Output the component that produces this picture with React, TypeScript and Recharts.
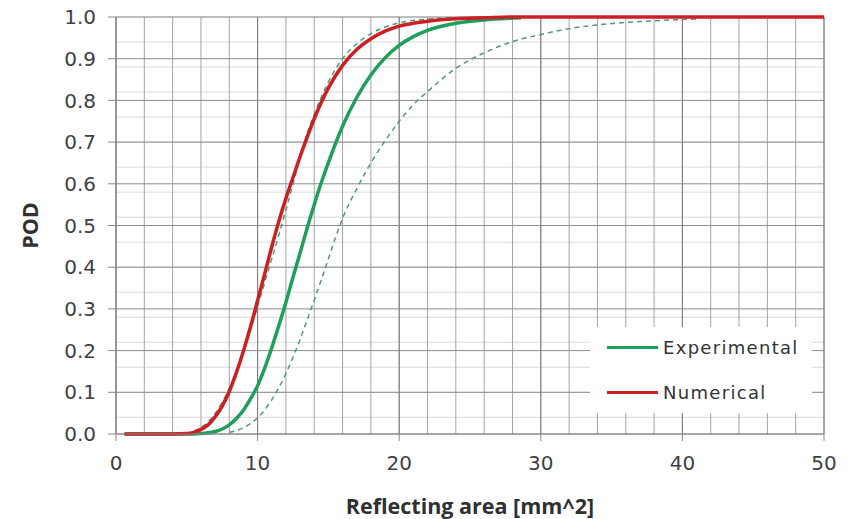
import { LineChart, Line, XAxis, YAxis, CartesianGrid, Legend } from 'recharts';

const RED = '#cc1f24';
const GREEN = '#1f9e5c';
const DASH = '#56967a';

// x ticks (mm^2) and POD ticks
const xMajor = [0, 10, 20, 30, 40, 50];
const xMinor = [0, 2, 4, 6, 8, 10, 12, 14, 16, 18, 20, 22, 24, 26, 28, 30, 32, 34, 36, 38, 40, 42, 44, 46, 48, 50];
const yMajor = [0, 0.1, 0.2, 0.3, 0.4, 0.5, 0.6, 0.7, 0.8, 0.9, 1.0];
const yMinor = [
  0, 0.02, 0.04, 0.06, 0.08, 0.1, 0.12, 0.14, 0.16, 0.18, 0.2, 0.22, 0.24, 0.26, 0.28, 0.3, 0.32, 0.34, 0.36, 0.38,
  0.4, 0.42, 0.44, 0.46, 0.48, 0.5, 0.52, 0.54, 0.56, 0.58, 0.6, 0.62, 0.64, 0.66, 0.68, 0.7, 0.72, 0.74, 0.76, 0.78,
  0.8, 0.82, 0.84, 0.86, 0.88, 0.9, 0.92, 0.94, 0.96, 0.98, 1.0,
];

// Numerical POD curve
const numX = [0.6, 4, 5, 5.5, 6, 6.5, 7, 7.5, 8, 8.5, 9, 9.5, 10, 10.5, 11, 11.5, 12, 12.5, 13, 13.5, 14, 15, 16, 17, 18, 19, 20, 22, 24, 26, 28, 50];
const numPod = [0, 0, 0.001, 0.004, 0.011, 0.022, 0.041, 0.067, 0.102, 0.147, 0.199, 0.257, 0.32, 0.384, 0.449, 0.51, 0.565, 0.615, 0.665, 0.712, 0.756, 0.83, 0.884, 0.922, 0.948, 0.966, 0.978, 0.99, 0.996, 0.998, 1.0, 1.0];

// Experimental POD curve
const expX = [0.6, 5.5, 6, 6.5, 7, 7.5, 8, 8.5, 9, 9.5, 10, 10.5, 11, 11.5, 12, 12.5, 13, 13.5, 14, 14.5, 15, 16, 17, 18, 19, 20, 21, 22, 24, 26, 28.6];
const expPod = [0, 0, 0.001, 0.003, 0.006, 0.012, 0.022, 0.037, 0.057, 0.084, 0.116, 0.158, 0.207, 0.26, 0.316, 0.376, 0.434, 0.494, 0.55, 0.603, 0.651, 0.738, 0.807, 0.861, 0.902, 0.932, 0.953, 0.968, 0.985, 0.993, 0.998];

// Experimental confidence bounds (dashed)
const upperX = [5.5, 6, 6.5, 7, 7.5, 8, 8.5, 9, 9.5, 10, 10.5, 11, 11.5, 12, 12.5, 13, 13.5, 14, 15, 16, 17, 18, 19, 20, 22, 24, 26, 28.6];
const upperPod = [0.007, 0.016, 0.029, 0.049, 0.076, 0.11, 0.15, 0.198, 0.25, 0.306, 0.363, 0.42, 0.477, 0.537, 0.6, 0.663, 0.72, 0.767, 0.844, 0.9, 0.936, 0.96, 0.976, 0.986, 0.995, 0.998, 0.999, 1.0];

const lowerX = [8, 9, 10, 10.5, 11, 11.5, 12, 12.5, 13, 13.5, 14, 14.5, 15, 15.5, 16, 17, 18, 19, 20, 21, 22, 24, 26, 28, 30, 32, 34, 36, 38, 40, 41];
const lowerPod = [0.004, 0.015, 0.039, 0.058, 0.082, 0.111, 0.145, 0.184, 0.227, 0.274, 0.321, 0.37, 0.42, 0.471, 0.517, 0.588, 0.65, 0.703, 0.75, 0.79, 0.821, 0.877, 0.914, 0.941, 0.958, 0.972, 0.981, 0.987, 0.991, 0.994, 0.995];

const toPoints = (xs: number[], ys: number[]) => xs.map((x, i) => ({ x, y: ys[i] }));

const tickStyle = { fill: '#404040', fontSize: 20, fontFamily: 'DejaVu Sans, sans-serif' };
const titleStyle = { fill: '#303030', fontSize: 21.5, fontWeight: 700, fontFamily: 'Open Sans, sans-serif' };

function LegendBox({ payload }: { payload?: any[] }) {
  const items = (payload || []).filter((p) => p.type !== 'none');
  return (
    <div
      style={{
        background: '#fff',
        width: 222,
        height: 86,
        boxSizing: 'border-box',
        paddingTop: 9,
        paddingLeft: 17,
        fontFamily: 'DejaVu Sans, sans-serif',
        fontSize: 18,
        color: '#333',
      }}
    >
      {items.map((p) => (
        <div key={p.value} style={{ display: 'flex', alignItems: 'center', height: 22, marginBottom: 23 }}>
          <div style={{ width: 51, height: 3, background: p.color, marginRight: 5 }} />
          <span style={{ letterSpacing: 1.3 }}>{p.value}</span>
        </div>
      ))}
    </div>
  );
}

export default function App() {
  return (
    <div style={{ position: 'absolute', left: 0, top: 0, background: '#fff' }}>
      <LineChart width={852} height={519} margin={{ top: 17, right: 28, left: 0, bottom: 0 }}>
        <CartesianGrid horizontal={true} vertical={false} horizontalValues={yMinor} stroke="#dadada" />
        <CartesianGrid horizontal={false} vertical={true} verticalValues={xMinor} stroke="#a4a4a4" />
        <CartesianGrid horizontal={true} vertical={false} horizontalValues={yMajor} stroke="#8c8c8c" />
        <CartesianGrid horizontal={false} vertical={true} verticalValues={xMajor} stroke="#7c7c7c" />
        <XAxis
          dataKey="x"
          type="number"
          domain={[0, 50]}
          ticks={xMajor}
          height={85}
          tick={tickStyle}
          tickSize={7}
          tickMargin={15}
          stroke="#888"
          label={{ value: 'Reflecting area [mm^2]', position: 'insideBottom', offset: 5, style: titleStyle }}
        />
        <YAxis
          type="number"
          domain={[0, 1]}
          ticks={yMajor}
          width={116}
          tick={tickStyle}
          tickSize={8}
          tickMargin={12}
          tickFormatter={(v: number) => v.toFixed(1)}
          stroke="#888"
          label={{ value: 'POD', angle: -90, position: 'insideLeft', offset: 30, style: { ...titleStyle, textAnchor: 'middle' } }}
        />
        <Legend
          layout="horizontal"
          verticalAlign="middle"
          content={<LegendBox />}
          wrapperStyle={{ left: 590, top: 327, width: 222, height: 86 }}
        />
        <Line
          data={toPoints(upperX, upperPod)}
          dataKey="y"
          name="Upper"
          type="monotone"
          stroke={DASH}
          strokeWidth={1.5}
          strokeDasharray="5 4"
          dot={false}
          legendType="none"
          isAnimationActive={false}
        />
        <Line
          data={toPoints(lowerX, lowerPod)}
          dataKey="y"
          name="Lower"
          type="monotone"
          stroke={DASH}
          strokeWidth={1.5}
          strokeDasharray="5 4"
          dot={false}
          legendType="none"
          isAnimationActive={false}
        />
        <Line
          data={toPoints(expX, expPod)}
          dataKey="y"
          name="Experimental"
          type="monotone"
          stroke={GREEN}
          strokeWidth={3.5}
          dot={false}
          isAnimationActive={false}
        />
        <Line
          data={toPoints(numX, numPod)}
          dataKey="y"
          name="Numerical"
          type="monotone"
          stroke={RED}
          strokeWidth={3.5}
          dot={false}
          isAnimationActive={false}
        />
      </LineChart>
    </div>
  );
}
